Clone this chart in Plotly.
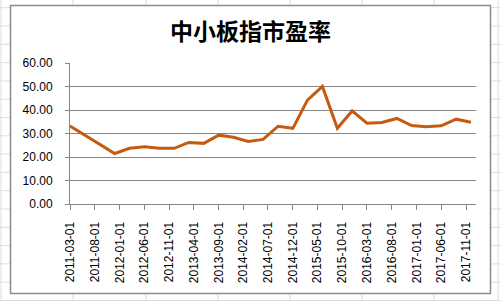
import plotly.graph_objects as go

dates = ["2011-03-01", "2011-06-01", "2011-09-01", "2011-12-01",
         "2012-03-01", "2012-06-01", "2012-09-01", "2012-12-01",
         "2013-03-01", "2013-06-01", "2013-09-01", "2013-12-01",
         "2014-03-01", "2014-06-01", "2014-09-01", "2014-12-01",
         "2015-03-01", "2015-06-01", "2015-09-01", "2015-12-01",
         "2016-03-01", "2016-06-01", "2016-09-01", "2016-12-01",
         "2017-03-01", "2017-06-01", "2017-09-01", "2017-12-01"]
pe_values = [33.2, 29.3, 25.4, 21.5,
             23.7, 24.4, 23.7, 23.7,
             26.2, 25.8, 29.3, 28.4,
             26.6, 27.5, 33.1, 32.2,
             44.2, 50.0, 32.2, 39.6,
             34.4, 34.7, 36.4, 33.4,
             32.9, 33.3, 36.1, 34.8]
tick_labels = ["2011-03-01", "2011-08-01", "2012-01-01", "2012-06-01", "2012-11-01",
               "2013-04-01", "2013-09-01", "2014-02-01", "2014-07-01", "2014-12-01",
               "2015-05-01", "2015-10-01", "2016-03-01", "2016-08-01", "2017-01-01",
               "2017-06-01", "2017-11-01"]
title_text = "中小板指市盈率"

W, H = 501, 301
L, R, T, B = 70, 25, 63, 97
pw, ph = W - L - R, H - T - B

def px(x):
    return (x - L) / pw

def py(y):
    return (H - B - y) / ph

fig = go.Figure()
fig.add_trace(go.Scatter(
    x=dates, y=pe_values, mode="lines",
    line=dict(color="#C55A11", width=3),
    hoverinfo="x+y", showlegend=False))

shapes = []
grid_col = "#DADDE3"
for gx in [1, 73, 146, 218, 290, 362, 434, 498]:
    shapes.append(dict(type="line", xref="paper", yref="paper", layer="below",
                       x0=px(gx), x1=px(gx), y0=py(0), y1=py(H),
                       line=dict(color=grid_col, width=1)))
gy = 300.5
while gy > 0:
    shapes.append(dict(type="line", xref="paper", yref="paper", layer="below",
                       x0=px(0), x1=px(W), y0=py(gy), y1=py(gy),
                       line=dict(color=grid_col, width=1)))
    gy -= 18.3
shapes.append(dict(type="rect", xref="paper", yref="paper", layer="below",
                   x0=px(10.5), x1=px(490.5), y0=py(293.5), y1=py(5.5),
                   fillcolor="white", line=dict(color="#8C8C8C", width=1.5)))

fig.update_layout(
    width=W, height=H,
    margin=dict(l=L, r=R, t=T, b=B, pad=0),
    paper_bgcolor="white",
    plot_bgcolor="rgba(0,0,0,0)",
    font=dict(family="Liberation Sans, Arial, sans-serif", size=12, color="black"),
    title=dict(text="<b>" + title_text + "</b>", x=0.5, xref="container", xanchor="center",
               y=1 - 32 / H, yref="container", yanchor="middle",
               font=dict(family="Noto Sans CJK SC", size=23, color="black")),
    shapes=shapes,
    xaxis=dict(type="date", range=["2011-03-01", "2018-01-01"],
               tickvals=tick_labels, ticktext=tick_labels, tickangle=-90,
               showgrid=False, showline=True, linecolor="#868686", linewidth=1,
               ticks="outside", ticklen=5, tickcolor="#868686",
               ticklabelstandoff=7,
               tickfont=dict(size=12), zeroline=False),
    yaxis=dict(range=[0, 60], dtick=10, tickformat=".2f",
               showgrid=True, gridcolor="#868686", gridwidth=1,
               showline=True, linecolor="#868686", linewidth=1,
               ticks="outside", ticklen=4, tickcolor="#868686",
               ticklabelstandoff=10, zeroline=False,
               tickfont=dict(size=12)),
)

fig.write_html("out.html")
